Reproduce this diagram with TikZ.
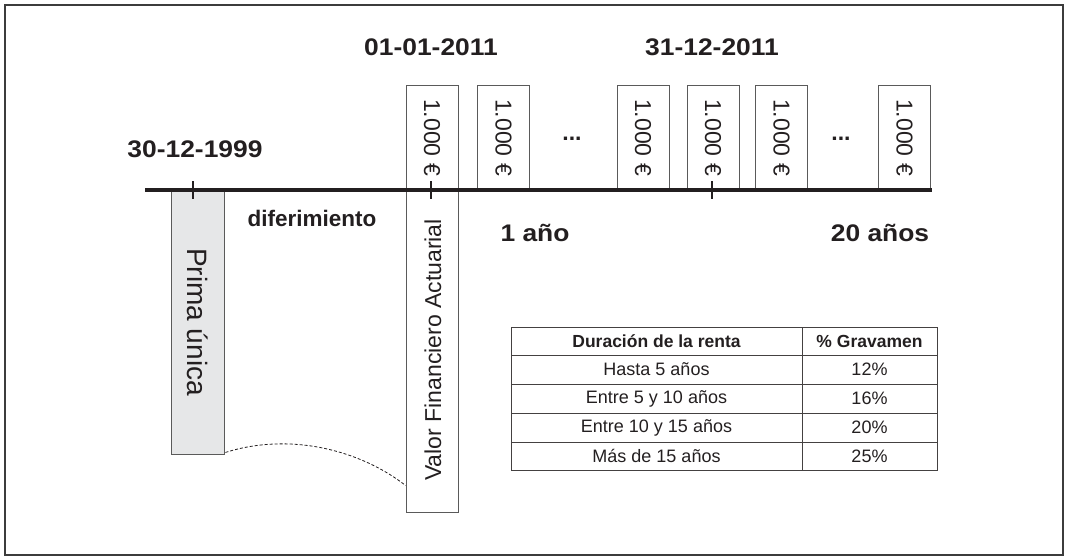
\documentclass[tikz,border=0pt]{standalone}
\usepackage{fontspec}
\setmainfont{Liberation Sans}
\newfontfamily\widebold[FakeStretch=1.1]{Liberation Sans Bold}
\usetikzlibrary{calc}
\definecolor{ink}{HTML}{231F20}
\definecolor{boxgray}{HTML}{E6E7E8}
\definecolor{edge}{HTML}{5A5A5A}
\definecolor{frame}{HTML}{3C3C3C}
\begin{document}
\begin{tikzpicture}[x=1pt,y=-1pt,
  amt/.style={draw=edge, line width=0.9pt, minimum width=52pt, minimum height=105pt, inner sep=0pt},
  money/.style={rotate=-90, font=\fontsize{23}{23}\selectfont, text=ink, inner sep=0pt},
  bigbold/.style={font=\widebold\fontsize{24}{24}\selectfont, text=ink, inner sep=0pt},
  midbold/.style={font=\bfseries\fontsize{23}{23}\selectfont, text=ink, inner sep=0pt},
  tick/.style={line width=1.6pt, draw=ink},
  tline/.style={draw=ink!85, line width=0.9pt},
  thead/.style={font=\bfseries\fontsize{17.5}{17.5}\selectfont, text=ink, inner sep=0pt},
  tcell/.style={font=\fontsize{18}{18}\selectfont, text=ink, inner sep=0pt}]
\useasboundingbox (0,0) rectangle (1065,557);
\draw[frame, line width=2pt] (5,5) rectangle (1063,555);

% boxes
\node[draw=edge, line width=0.9pt, fill=boxgray, minimum width=53pt, minimum height=264pt, inner sep=0pt] (prima) at (197.5,322) {};
\node[rotate=-90, font=\fontsize{28}{28}\selectfont, text=ink] (primat) at (197.5,322) {Prima única};
\node[draw=edge, line width=0.9pt, fill=white, minimum width=52pt, minimum height=427pt, inner sep=0pt] (valor) at (432,298.5) {};
\node[rotate=90, font=\fontsize{23}{23}\selectfont, text=ink] (valort) at (433,350) {Valor Financiero Actuarial};

\node[amt] (b2) at (503.5,137.5) {};
\node[amt] (b3) at (643,137.5) {};
\node[amt] (b4) at (713,137.5) {};
\node[amt] (b5) at (781.5,137.5) {};
\node[amt] (b6) at (904.5,137.5) {};

\node[money] (m1) at (432,137.5) {1.000 €};
\node[money] (m2) at (b2) {1.000 €};
\node[money] (m3) at (b3) {1.000 €};
\node[money] (m4) at (b4) {1.000 €};
\node[money] (m5) at (b5) {1.000 €};
\node[money] (m6) at (b6) {1.000 €};

\node[midbold] (dots1) at (572,139) {...};
\node[midbold] (dots2) at (841,139) {...};

% timeline
\coordinate (tl0) at (145,190);
\coordinate (tl1) at (932,190);
\draw[ink, line width=3.6pt] (tl0) -- (tl1);
\coordinate (t1) at (193,190);
\coordinate (t2) at (431,190);
\coordinate (t3) at (712,190);
\draw[tick] ($(t1)+(0,-9)$) -- ($(t1)+(0,9)$);
\draw[tick] ($(t2)+(0,-9)$) -- ($(t2)+(0,9)$);
\draw[tick] ($(t3)+(0,-9)$) -- ($(t3)+(0,9)$);

% labels
\node[bigbold] (d1) at (195,149) {30-12-1999};
\node[bigbold] (d2) at (431,47) {01-01-2011};
\node[bigbold] (d3) at (712,47) {31-12-2011};
\node[bigbold] (dif) at (312,218) {\normalfont\bfseries\fontsize{22.5}{22.5}\selectfont diferimiento};
\node[bigbold] (y1) at (535,233) {1 año};
\node[bigbold] (y20) at (880,233) {20 años};

% dashed connector
\coordinate (cstart) at ($(prima.south east)+(1,-2)$);
\coordinate (cend) at ($(valor.south west)+(0,-27)$);
\draw[ink, line width=0.8pt, dash pattern=on 3pt off 2pt] (cstart) .. controls (290,432) and (360,450) .. (cend);

% table
\draw[tline] (511,327) rectangle (937,470);
\draw[tline] (802,327) -- (802,470);
\draw[tline] (511,355) -- (937,355);
\draw[tline] (511,384) -- (937,384);
\draw[tline] (511,413) -- (937,413);
\draw[tline] (511,442) -- (937,442);
\node[thead] (h1) at (656.5,341) {Duración de la renta};
\node[thead] (h2) at (869.5,341) {\% Gravamen};
\node[tcell] (r1a) at (656.5,369.5) {Hasta 5 años};
\node[tcell] (r1b) at (869.5,369.5) {12\%};
\node[tcell] (r2a) at (656.5,398.5) {Entre 5 y 10 años};
\node[tcell] (r2b) at (869.5,398.5) {16\%};
\node[tcell] (r3a) at (656.5,427.5) {Entre 10 y 15 años};
\node[tcell] (r3b) at (869.5,427.5) {20\%};
\node[tcell] (r4a) at (656.5,456) {Más de 15 años};
\node[tcell] (r4b) at (869.5,456) {25\%};
\end{tikzpicture}
\end{document}
